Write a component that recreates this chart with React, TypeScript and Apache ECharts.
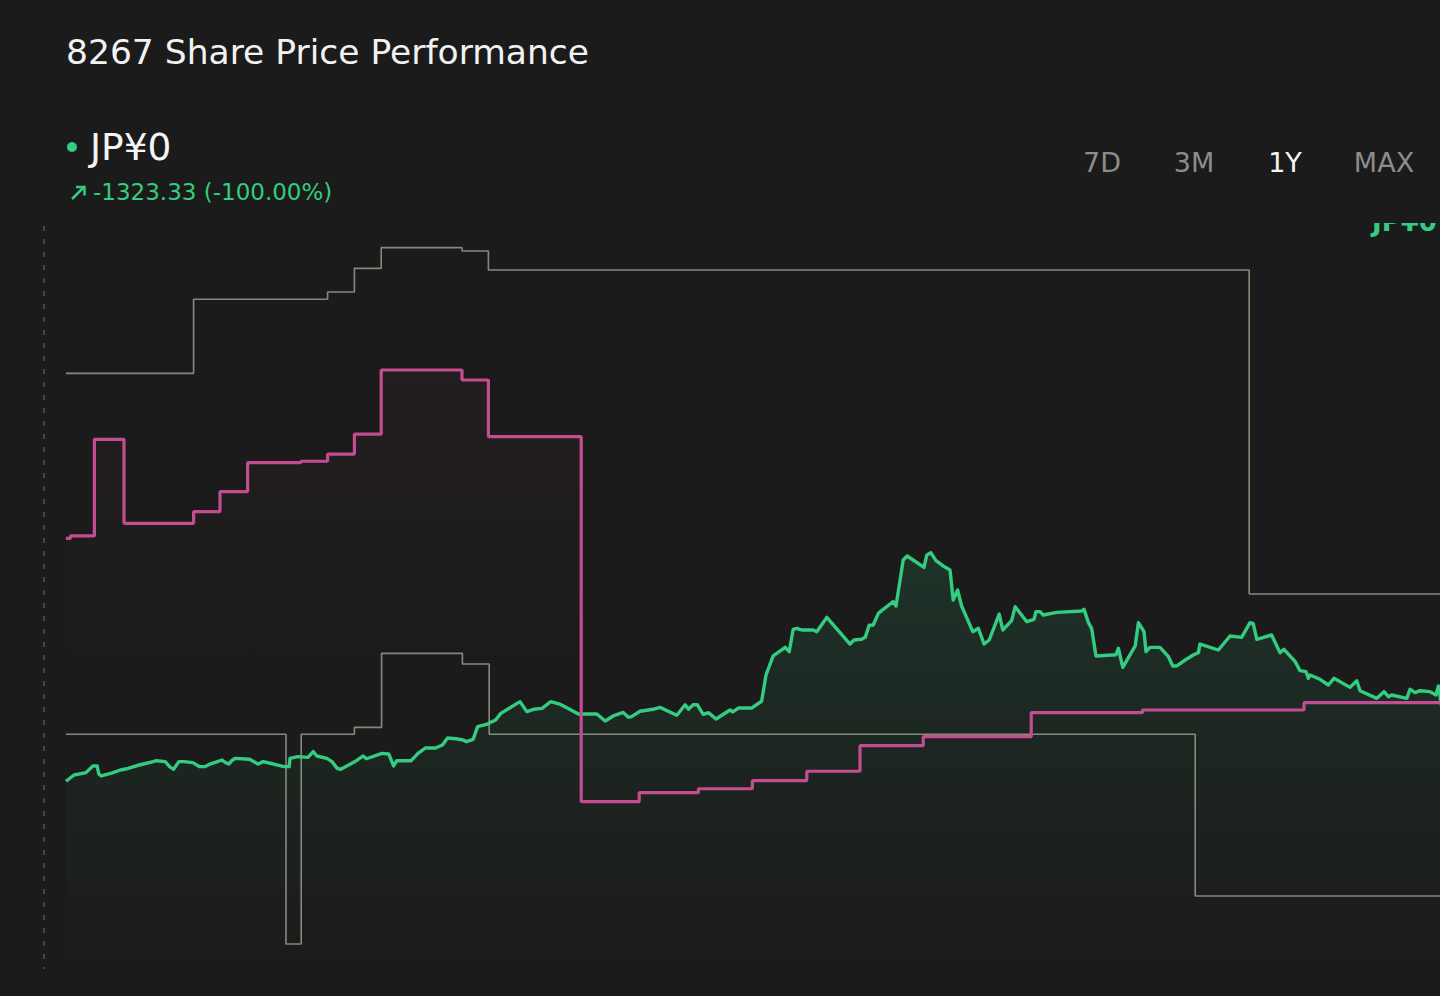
import React, { useEffect, useRef } from "react";
import * as echarts from "echarts";

// ---- data (x = trading day index over the 1Y window, y = price in JP¥) ----
const priceHistory: [number, number][] = [
  [0, 1323], [2, 1368], [5, 1385], [6.7, 1433], [7.8, 1433], [8.2, 1375], [8.8, 1361], [11.4, 1382],
  [13.6, 1404], [14.9, 1411], [18.3, 1440], [21.8, 1464], [22.6, 1471], [24.8, 1464], [25.9, 1428],
  [26.9, 1409], [28.2, 1464], [29.5, 1464], [31.7, 1457], [33.4, 1428], [34.7, 1428], [36, 1447],
  [39, 1476], [39.8, 1459], [40.7, 1447], [41.6, 1476], [42.4, 1488], [45.9, 1481], [48, 1447],
  [49.3, 1464], [51.9, 1447], [54.5, 1428], [55.8, 1428], [56, 1488], [57.9, 1500], [60.5, 1495],
  [61.8, 1536], [62.7, 1505], [65.2, 1488], [66.5, 1464], [67.8, 1416], [68.7, 1409], [72.6, 1471],
  [74.3, 1505], [75.1, 1485], [79, 1524], [80.7, 1519], [81.9, 1433], [82.7, 1471], [86.3, 1471],
  [88, 1524], [89.8, 1562], [92.4, 1562], [94.1, 1584], [95.4, 1634], [97.5, 1629], [99.3, 1620],
  [100.1, 1608], [101.8, 1625], [102.9, 1716], [105.3, 1735], [107.4, 1764], [108.7, 1812],
  [113.5, 1896], [115.2, 1824], [116.9, 1841], [119, 1848], [121.2, 1896], [123.4, 1879],
  [125.9, 1841], [128.1, 1807], [132.7, 1807], [134.8, 1757], [136.8, 1793], [139.3, 1819],
  [140.6, 1783], [141.4, 1788], [143.5, 1827], [146.8, 1841], [148.5, 1855], [152.7, 1798],
  [154.8, 1874], [155.6, 1841], [156.8, 1874], [157.8, 1874], [159.3, 1805], [160.6, 1817],
  [162.5, 1771], [166, 1836], [166.7, 1822], [168.1, 1850], [171.4, 1850], [173.9, 1899],
  [175, 2088], [176.8, 2225], [179.8, 2287], [180.8, 2256], [181.8, 2417], [182.7, 2424],
  [183.9, 2412], [186.8, 2412], [187.7, 2400], [190.2, 2503], [196, 2311], [197, 2340],
  [198.9, 2345], [199.8, 2359], [200.8, 2446], [201.8, 2448], [203.1, 2532], [204.3, 2561],
  [206.8, 2616], [207.5, 2585], [209.3, 2916], [210.3, 2945], [214.5, 2863], [215.2, 2952],
  [216.2, 2969], [217.5, 2911], [219.3, 2873], [221, 2844], [221.8, 2628], [222.9, 2700],
  [223.9, 2585], [226.7, 2400], [228.1, 2424], [229.5, 2311], [230.8, 2340], [233.3, 2527],
  [234.2, 2412], [236.4, 2479], [237.3, 2580], [240.2, 2472], [242, 2489], [242.5, 2544],
  [243.5, 2544], [244.3, 2520], [247.7, 2539], [253.9, 2549], [254.5, 2561], [255.6, 2465],
  [256.4, 2424], [257.5, 2225], [262.5, 2234], [263.1, 2280], [264.2, 2143], [267.3, 2297],
  [268.1, 2465], [269.5, 2400], [270, 2256], [271, 2287], [273.5, 2287], [275.6, 2220],
  [276.7, 2153], [277.7, 2153], [279.8, 2196], [281.8, 2232], [283.1, 2249], [283.5, 2311],
  [288.1, 2268], [291, 2369], [293.9, 2359], [296, 2465], [296.8, 2460], [297.7, 2345],
  [301.4, 2376], [303.5, 2249], [304.5, 2273], [307.3, 2184], [308.5, 2119], [310, 2112],
  [310.6, 2064], [311, 2088], [313.5, 2057], [315.6, 2016], [317, 2064], [321, 1999],
  [322.7, 2047], [323.5, 1975], [327.7, 1920], [329.5, 1968], [330.6, 1932], [331.4, 1944],
  [335.2, 1920], [336, 1985], [337.3, 1961], [338.5, 1975], [341, 1968], [342.5, 1944],
  [343.1, 2009], [354, 0],
];

const midSteps: [number, number][] = [
  [0, 3072], [1.1, 3089], [7.1, 3785], [14.5, 3180], [31.9, 3264], [38.5, 3408], [45.4, 3617],
  [58.7, 3627], [65.4, 3679], [72.1, 3823], [78.8, 4284], [99, 4212], [105.6, 3804],
  [128.8, 1176], [143.3, 1241], [158.1, 1269], [171.6, 1327], [185.2, 1395], [198.5, 1579],
  [214.3, 1644], [241.3, 1817], [269.1, 1836], [309.5, 1889], [360, 1889],
];

const highSteps: [number, number][] = [
  [0, 4260], [31.9, 4793], [65.4, 4846], [72.1, 5016], [78.8, 5165], [99, 5141], [105.6, 5004],
  [295.8, 2671], [360, 2671],
];

const lowSteps: [number, number][] = [
  [0, 1661], [55, 151], [58.8, 1661], [72.1, 1711], [78.9, 2244], [99.1, 2167], [105.8, 1661],
  [282.3, 497], [360, 497],
];

const rangeButtons = ["7D", "3M", "1Y", "MAX"];
const activeButton = "1Y";

const titleText = "8267 Share Price Performance";
const priceText = "JP¥0";
const changeText = "-1323.33 (-100.00%)";

// ---- styles ----
const BG = "#1b1b1b";
const GREEN = "#33cc80";
const PINK = "#c44d92";
const GREY = "#8a8778";
const FONT = "DejaVu Sans";

export default function App() {
  const ref = useRef<HTMLDivElement>(null);

  useEffect(() => {
    if (!ref.current) return;
    const chart = echarts.init(ref.current, null, { renderer: "svg" });

    const buttonX = [1102, 1194, 1285, 1384];

    const option: any = {
      animation: false,
      backgroundColor: BG,
      grid: { left: 66, right: 0, top: 225, bottom: 31, containLabel: false },
      xAxis: {
        type: "value",
        min: 0,
        max: 360,
        show: false,
      },
      yAxis: {
        type: "value",
        min: 0,
        max: 5328,
        show: false,
      },
      series: [
        {
          type: "line",
          name: "high",
          step: "end",
          data: highSteps,
          showSymbol: false,
          symbol: "none",
          lineStyle: { color: GREY, width: 1.6 },
          z: 2,
        },
        {
          type: "line",
          name: "low",
          step: "end",
          data: lowSteps,
          showSymbol: false,
          symbol: "none",
          lineStyle: { color: GREY, width: 1.6 },
          z: 2,
        },
        {
          type: "line",
          name: "price",
          data: priceHistory,
          showSymbol: false,
          symbol: "none",
          lineStyle: { color: GREEN, width: 3.4, join: "round" },
          areaStyle: {
            color: new echarts.graphic.LinearGradient(0, 0, 0, 1, [
              { offset: 0, color: "rgba(51,204,128,0.19)" },
              { offset: 0.55, color: "rgba(51,204,128,0.07)" },
              { offset: 1, color: "rgba(51,204,128,0)" },
            ]),
          },
          z: 3,
        },
        {
          type: "line",
          name: "mid",
          step: "end",
          data: midSteps,
          showSymbol: false,
          symbol: "none",
          lineStyle: { color: PINK, width: 3.2 },
          areaStyle: {
            color: new echarts.graphic.LinearGradient(0, 0, 0, 1, [
              { offset: 0, color: "rgba(196,77,146,0.07)" },
              { offset: 0.5, color: "rgba(196,77,146,0)" },
              { offset: 1, color: "rgba(196,77,146,0)" },
            ]),
          },
          z: 4,
        },
      ],
      graphic: [
        {
          type: "text",
          z: 10,
          style: {
            text: titleText,
            x: 66,
            y: 52,
            fill: "#f2f2f2",
            fontSize: 34.5,
            fontFamily: FONT,
            verticalAlign: "middle",
            align: "left",
          },
        },
        {
          type: "circle",
          z: 10,
          shape: { cx: 72, cy: 147, r: 5 },
          style: { fill: GREEN },
        },
        {
          type: "text",
          z: 10,
          style: {
            text: priceText,
            x: 90,
            y: 147,
            fill: "#f5f5f5",
            fontSize: 37.5,
            fontFamily: FONT,
            verticalAlign: "middle",
            align: "left",
          },
        },
        {
          type: "line",
          z: 10,
          shape: { x1: 72, y1: 199, x2: 84, y2: 187 },
          style: { stroke: GREEN, lineWidth: 2.5 },
        },
        {
          type: "polyline",
          z: 10,
          shape: { points: [[76, 187], [84.5, 187], [84.5, 195.5]] },
          style: { stroke: GREEN, lineWidth: 2.5, fill: "none" },
        },
        {
          type: "text",
          z: 10,
          style: {
            text: changeText,
            x: 93,
            y: 192,
            fill: GREEN,
            fontSize: 23,
            fontFamily: FONT,
            verticalAlign: "middle",
            align: "left",
          },
        },
        ...rangeButtons.map((b, i) => ({
          type: "text",
          z: 10,
          style: {
            text: b,
            x: buttonX[i],
            y: 162,
            fill: b === activeButton ? "#f5f5f5" : "#8c8c8c",
            fontSize: 27,
            fontFamily: FONT,
            verticalAlign: "middle",
            align: "center",
          },
        })),
        {
          type: "line",
          z: 10,
          shape: { x1: 44, y1: 226, x2: 44, y2: 969 },
          style: { stroke: "#707070", lineWidth: 1, lineDash: [5, 8] },
        },
        {
          type: "text",
          z: 10,
          style: {
            text: priceText,
            x: 1372,
            y: 222,
            fill: GREEN,
            fontSize: 26,
            fontWeight: "bold",
            fontFamily: FONT,
            verticalAlign: "middle",
            align: "left",
          },
        },
        {
          type: "rect",
          z: 11,
          shape: { x: 1340, y: 192, width: 180, height: 31 },
          style: { fill: BG },
        },
      ],
    };

    chart.setOption(option);
    return () => chart.dispose();
  }, []);

  return (
    <div
      style={{
        position: "fixed",
        left: 0,
        top: 0,
        width: "100vw",
        height: "100vh",
        overflow: "hidden",
        background: BG,
      }}
    >
      <div ref={ref} style={{ width: 1506, height: 996 }} />
    </div>
  );
}
